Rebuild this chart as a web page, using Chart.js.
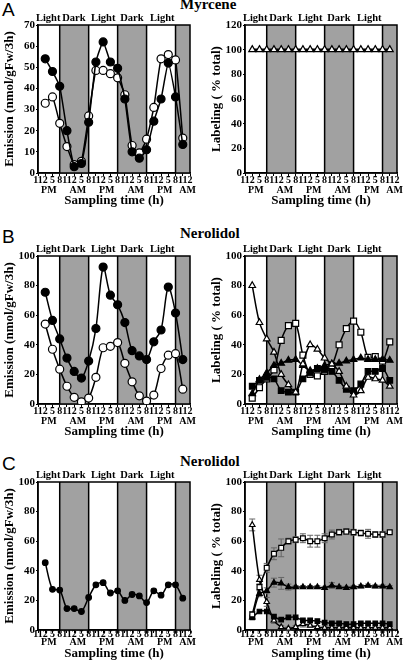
<!DOCTYPE html>
<html lang="en">
<head>
<meta charset="UTF-8">
<title>Myrcene and nerolidol emission and labeling</title>
<script src="https://cdn.jsdelivr.net/npm/chart.js@4.4.1/dist/chart.umd.min.js"></script>
<style>
    body {
        margin: 0;
        width: 406px;
        height: 662px;
        position: relative;
        overflow: hidden;
        background: #fff;
        font-family: "Liberation Serif", "Times New Roman", serif;
    }

    canvas {
        position: absolute;
    }

    .letter {
        position: absolute;
        left: 2px;
        font-family: "Liberation Sans", Arial, sans-serif;
        font-size: 19px;
        line-height: 1;
    }

    .title {
        position: absolute;
        left: 180px;
        font-weight: bold;
        font-size: 15px;
        line-height: 1;
    }
</style>
</head>
<body>
<div class="letter" style="top:0px">A</div>
<div class="title" style="top:-3px">Myrcene</div>
<div class="letter" style="top:227px">B</div>
<div class="title" style="top:226px">Nerolidol</div>
<div class="letter" style="top:454px">C</div>
<div class="title" style="top:454px">Nerolidol</div>

<canvas id="aLeft" width="200" height="196" style="left:0;top:12px"></canvas>
<canvas id="aRight" width="201" height="196" style="left:205px;top:12px"></canvas>
<canvas id="bLeft" width="200" height="196" style="left:0;top:243px"></canvas>
<canvas id="bRight" width="201" height="196" style="left:205px;top:243px"></canvas>
<canvas id="cLeft" width="200" height="192" style="left:0;top:469px"></canvas>
<canvas id="cRight" width="201" height="192" style="left:205px;top:469px"></canvas>

<script>
    // sampling times, hours after 11 AM of day one
    const hours = [3, 6, 9, 12, 15, 18, 21, 24, 27, 30, 33, 36, 39, 42, 45, 48, 51, 54, 57, 60];
    const tickLabels = ['11', '2', '5', '8', '11', '2', '5', '8', '11', '2', '5', '8',
        '11', '2', '5', '8', '11', '2', '5', '8', '11', '2'];
    const darkBands = [[9, 21], [33, 45], [57, 63]];
    const periodLabels = ['Light', 'Dark', 'Light', 'Dark', 'Light'];
    const periodAt = [4.2, 14.9, 27, 38.9, 51.5];
    const ampmLabels = ['PM', 'AM', 'PM', 'AM', 'PM', 'AM'];
    const ampmAt = [4.5, 16.5, 28.5, 40.5, 52.5, 62];

    // A - myrcene
    const myrEmissionFilled = [54, 48, 41, 20, 3, 4.5, 24, 52.5, 62, 52.5, 49.5, 35, 10, 7, 11, 24.5, 35, 52, 36, 13.5];
    const myrEmissionOpen = [33, 36, 23.5, 12.5, 4, 5.5, 27, 48.5, 48.5, 47, 45, 37, 13, 9.5, 16, 31, 54, 56, 53.5, 16.5];
    const myrLabeling = [100, 100, 100, 100, 100, 100, 100, 100, 100, 100, 100, 100, 100, 100, 100, 100, 100, 100, 100, 100];

    // B - nerolidol
    const nerEmissionFilled = [75.5, 56.5, 44, 31, 22, 17.5, 29, 51, 92.5, 73.5, 67, 55, 36, 32.5, 30, 42, 50, 79, 61.5, 30];
    const nerEmissionOpen = [54, 37, 23.5, 12, 4.5, 1.5, 4, 18, 38, 39, 41.5, 27.5, 15, 5.5, 2, 6, 24, 33, 34, 10];
    const nerOpenTri = [80, 55, 44, 35, 20, 13, 8, 27, 40, 37, 31, 27, 22, 12, 6, 9, 18, 17, 16, 12];
    const nerFilledSq = [12, 16, 18, 17, 9, 8, 8, 17, 21, 24, 23, 22, 16, 10, 9, 13.5, 22, 22, 24, 16];
    const nerFilledTri = [7, 16.5, 21, 26, 27.5, 29.5, 30, 26, 22.5, 24, 26, 27, 27.5, 29, 30, 31, 30, 30, 30, 29.5];
    const nerOpenSq = [4, 11, 17, 23, 43, 53, 54.5, 33, 20, 19, 22, 26, 40, 51, 56, 48.5, 31.5, 32, 29, 42];

    // C - nerolidol, continuous
    const cEmission = [45.5, 27.5, 27, 14.5, 14.5, 12.5, 22, 30.5, 32, 25, 26.5, 20, 24, 23, 18.5, 26.5, 23.5, 30.5, 30.5, 21.5];
    const cOpenSq = [10.5, 29, 42, 51.5, 55.5, 60, 61, 62, 60, 60, 62, 64.5, 66, 66.5, 66, 65.5, 65, 64.5, 64.5, 66];
    const cOpenSqErr = [2, 2, 3, 4, 6, 2, 2, 3, 4, 4, 3, 3, 2, 2, 2, 2, 3, 2, 2, 1];
    const cOpenTri = [71, 34, 19, 6.5, 2, 1, 2, 4, 3, 2, 1.5, 1.5, 1.5, 1.5, 1.5, 1.5, 1.5, 1.5, 1.5, 1.5];
    const cOpenTriErr = [4, 3, 3, 2, 1, 1, 1, 2, 1, 1, 1, 1, 1, 1, 1, 1, 1, 1, 1, 1];
    const cFilledTri = [8.5, 24.5, 26.5, 32, 31.5, 29, 29, 29, 29, 29, 28.5, 30, 29, 28.5, 29, 29.5, 30, 29.5, 29.5, 29];
    const cFilledTriErr = [1, 2, 2, 3, 4, 2, 1, 1, 1, 1, 1, 2, 1, 1, 1, 1, 1, 1, 1, 1];
    const cFilledSq = [8.5, 12.5, 12.5, 9, 7, 8.5, 8.5, 6.5, 6.5, 6, 5, 4.5, 4.5, 4, 4, 4.5, 4.5, 4.5, 4.5, 4];

    Chart.defaults.font.family = '"Liberation Serif", "Times New Roman", serif';
    Chart.defaults.color = '#000';

    const dayNight = {
        id: 'dayNight',
        beforeDatasetsDraw(chart) {
            const { ctx, chartArea: a, scales: { x, y } } = chart;
            ctx.save();
            ctx.fillStyle = '#a1a1a1';
            darkBands.forEach(([s, e]) => {
                const x0 = x.getPixelForValue(s), x1 = x.getPixelForValue(e);
                ctx.fillRect(x0, a.top, x1 - x0, a.bottom - a.top);
            });
            ctx.strokeStyle = '#000';
            ctx.lineWidth = 1.5;
            darkBands.flat().forEach(v => {
                if (v <= 0 || v >= 63) return;
                const px = x.getPixelForValue(v);
                ctx.beginPath();
                ctx.moveTo(px, a.top);
                ctx.lineTo(px, a.bottom);
                ctx.stroke();
            });
            ctx.strokeRect(a.left, a.top, a.right - a.left, a.bottom - a.top);

            // error bars
            ctx.strokeStyle = '#666';
            ctx.lineWidth = 1;
            chart.data.datasets.forEach(ds => {
                if (!ds.errors) return;
                ds.data.forEach((p, i) => {
                    const e = ds.errors[i];
                    if (!e) return;
                    const px = x.getPixelForValue(p.x);
                    const t = y.getPixelForValue(p.y + e);
                    const b = y.getPixelForValue(Math.max(0, p.y - e));
                    ctx.beginPath();
                    ctx.moveTo(px, t); ctx.lineTo(px, b);
                    ctx.moveTo(px - 3, t); ctx.lineTo(px + 3, t);
                    ctx.moveTo(px - 3, b); ctx.lineTo(px + 3, b);
                    ctx.stroke();
                });
            });
            ctx.restore();
        },
        afterDraw(chart, args, opts) {
            const { ctx, chartArea: a, scales: { x } } = chart;
            ctx.save();
            ctx.fillStyle = '#000';
            ctx.textAlign = 'center';
            ctx.textBaseline = 'middle';
            ctx.font = 'bold 10.5px "Liberation Serif", serif';
            periodLabels.forEach((t, i) => ctx.fillText(t, x.getPixelForValue(periodAt[i]), a.top - 7));
            ctx.font = 'bold 10px "Liberation Serif", serif';
            ampmLabels.forEach((t, i) => ctx.fillText(t, x.getPixelForValue(ampmAt[i]), a.bottom + opts.ampmOffset));
            ctx.restore();
        }
    };

    function series(vals) {
        return hours.map((h, i) => ({ x: h, y: vals[i] }));
    }

    function line(vals, style, filled, radius, extra) {
        return Object.assign({
            data: series(vals),
            borderColor: '#000',
            borderWidth: 1.5,
            tension: 0.3,
            pointStyle: style,
            pointRadius: radius,
            pointBackgroundColor: filled ? '#000' : '#fff',
            pointBorderColor: '#000',
            pointBorderWidth: 1.2
        }, extra || {});
    }

    function makeChart(id, datasets, c) {
        const bold = size => ({ family: '"Liberation Serif", serif', weight: 'bold', size: size, lineHeight: 1.2 });
        return new Chart(document.getElementById(id), {
            type: 'line',
            data: { datasets: datasets },
            options: {
                responsive: false,
                animation: false,
                layout: { padding: { top: 13, right: c.rightPad, left: 0, bottom: 0 } },
                plugins: {
                    legend: { display: false },
                    tooltip: { enabled: false },
                    dayNight: { ampmOffset: c.ampmOffset }
                },
                scales: {
                    x: {
                        type: 'linear',
                        min: 0,
                        max: 63,
                        afterFit: s => { s.height = c.xHeight; },
                        border: { color: '#000', width: 1.5 },
                        grid: { drawOnChartArea: false, color: '#000', tickLength: 3 },
                        ticks: {
                            stepSize: 3,
                            autoSkip: false,
                            maxRotation: 0,
                            minRotation: 0,
                            padding: c.xTickPad,
                            font: { family: '"Liberation Serif", serif', weight: 'bold', size: 10, lineHeight: 1 },
                            callback: (v, i) => tickLabels[i]
                        },
                        title: { display: true, text: 'Sampling time (h)', font: bold(13), padding: 0 }
                    },
                    y: {
                        min: 0,
                        max: c.yMax,
                        afterFit: s => { s.width = c.yWidth; },
                        border: { color: '#000', width: 1.5 },
                        grid: { drawOnChartArea: false, color: '#000', tickLength: 2 },
                        ticks: { stepSize: c.yStep, padding: 1, font: bold(11) },
                        title: { display: true, text: c.yTitle, font: bold(13), padding: { top: c.yTitlePad, bottom: 0 } }
                    }
                }
            },
            plugins: [dayNight]
        });
    }

    const leftCfg = { yWidth: 38, yTitlePad: 2, rightPad: 10, yTitle: 'Emission (nmol/gFw/3h)' };
    const rightCfg = { yWidth: 40, yTitlePad: 4.2, rightPad: 9, yTitle: 'Labeling ( % total)' };
    const rowAB = { xHeight: 35, xTickPad: -1, ampmOffset: 17 };
    const rowC = { xHeight: 31, xTickPad: -3.8, ampmOffset: 12.5 };

    makeChart('aLeft', [
        line(myrEmissionFilled, 'circle', true, 4, { tension: 0.15 }),
        line(myrEmissionOpen, 'circle', false, 4, { tension: 0.15 })
    ], Object.assign({ yMax: 70, yStep: 10 }, leftCfg, rowAB));

    makeChart('aRight', [
        line(myrLabeling, 'triangle', false, 4, { borderWidth: 2.5, tension: 0 })
    ], Object.assign({ yMax: 120, yStep: 20 }, rightCfg, rowAB));

    makeChart('bLeft', [
        line(nerEmissionFilled, 'circle', true, 4),
        line(nerEmissionOpen, 'circle', false, 4)
    ], Object.assign({ yMax: 100, yStep: 10 }, leftCfg, rowAB));

    makeChart('bRight', [
        line(nerOpenTri, 'triangle', false, 3.8),
        line(nerFilledTri, 'triangle', true, 3.8),
        line(nerFilledSq, 'rect', true, 4),
        line(nerOpenSq, 'rect', false, 4.2)
    ], Object.assign({ yMax: 100, yStep: 10 }, rightCfg, rowAB));

    makeChart('cLeft', [
        line(cEmission, 'circle', true, 2.8)
    ], Object.assign({ yMax: 100, yStep: 10 }, leftCfg, rowC));

    makeChart('cRight', [
        line(cOpenSq, 'rect', false, 3.4, { errors: cOpenSqErr }),
        line(cFilledTri, 'triangle', true, 3.2, { errors: cFilledTriErr }),
        line(cFilledSq, 'rect', true, 3.2),
        line(cOpenTri, 'triangle', false, 3.2, { errors: cOpenTriErr })
    ], Object.assign({ yMax: 100, yStep: 10 }, rightCfg, rowC));
</script>
</body>
</html>
